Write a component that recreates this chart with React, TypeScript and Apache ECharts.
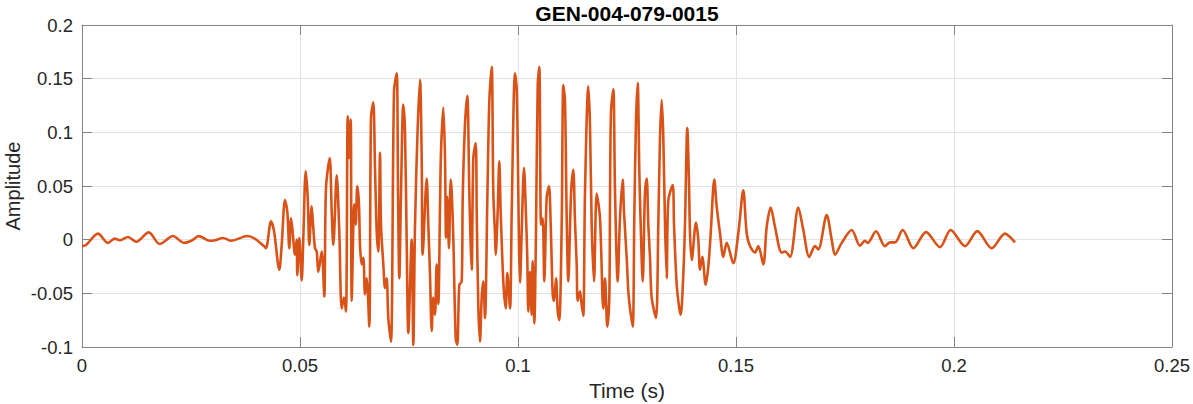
import React, { useEffect, useRef } from "react";
import * as echarts from "echarts";

const TITLE = "GEN-004-079-0015";
const X_LABEL = "Time (s)";
const Y_LABEL = "Amplitude";

// Time in milliseconds
const timeMs: number[] = [
  0, 0.92, 3.67, 5.96, 7.5, 8.65, 10.55, 12.45, 15.3, 17.82, 20.87, 23.39, 25.07, 26.77, 29.29, 30.5, 32.34, 34.24, 37.91, 39.61,
  41.74, 42.2, 43.35, 44.04, 45.25, 45.8, 46.56, 47.09, 47.55, 47.94, 48.23, 48.85, 49.24, 49.38, 49.84, 50.39, 50.76, 51.31, 51.77, 52.13,
  52.68, 53.05, 53.44, 53.83, 54.2, 54.98, 55.57, 55.96, 56.81, 57.27, 57.64, 58.42, 59.01, 59.56, 60.09, 60.55, 60.94, 61.24, 61.63, 61.86,
  62.45, 62.78, 63.14, 63.53, 63.76, 64.15, 64.52, 64.91, 65.3, 65.89, 66.28, 66.81, 67.2, 67.59, 67.96, 68.35, 68.58, 69.11, 69.5, 69.89,
  70.25, 70.87, 71.56, 72.18, 72.48, 72.78, 73.17, 73.69, 74.08, 74.47, 74.84, 75.62, 75.99, 76.38, 76.99, 77.52, 77.91, 78.14, 79.06, 79.43,
  79.82, 80.21, 80.57, 80.96, 81.35, 81.72, 82.11, 82.34, 82.87, 83.26, 83.49, 83.78, 84.17, 84.56, 84.79, 85.16, 85.71, 86.08, 86.54, 87.09,
  87.32, 87.84, 88.37, 88.83, 89.15, 89.38, 89.75, 90.3, 90.53, 90.89, 91.28, 91.67, 92.04, 92.43, 92.96, 93.42, 93.97, 94.33, 94.72, 94.89,
  95.34, 95.71, 96.03, 96.63, 97.18, 97.55, 98.17, 98.56, 99.31, 99.7, 100.07, 100.23, 100.46, 100.85, 101.38, 101.77, 102.13, 102.36, 102.75, 103.14,
  103.37, 103.74, 104.13, 104.52, 104.89, 105.28, 105.67, 106.03, 106.58, 107.11, 107.5, 107.96, 108.26, 108.72, 109.11, 109.47, 110.02, 110.39, 110.78, 111.17,
  111.54, 112.16, 112.68, 113.07, 113.46, 113.69, 114.22, 114.61, 114.98, 115.37, 116.12, 116.51, 116.9, 117.43, 118.05, 118.81, 119.56, 119.95, 120.48, 120.94,
  121.1, 121.33, 121.86, 122.25, 122.87, 123.39, 124.01, 124.31, 124.93, 125.3, 125.69, 126.31, 126.67, 127.06, 127.45, 127.82, 128.14, 128.6, 129.13, 129.52,
  129.89, 130.28, 130.66, 131.65, 132.18, 132.57, 132.96, 133.33, 133.72, 134.11, 134.47, 135.48, 135.78, 136.4, 136.99, 137.32, 137.91, 138.3, 138.83, 139.22,
  139.45, 139.84, 140.83, 141.35, 141.74, 142.27, 143.05, 143.65, 144.2, 145.02, 145.57, 146.33, 147.09, 147.87, 149.38, 150.53, 151.67, 152.45, 153.21, 154.36,
  155.11, 156.26, 157.04, 157.96, 158.94, 160.48, 161.24, 162.39, 164.29, 165.44, 166.81, 168.12, 168.88, 170.8, 171.95, 172.71, 174.24, 176.54, 178.44, 179.59,
  180.21, 182.11, 184.17, 185.32, 186.47, 188.23, 190.67, 193.58, 196.79, 199.24, 202.52, 205.34, 208.65, 211.7, 212.84, 213.99,
];

const amplitude: number[] = [
  -0.006, -0.005, 0.0056, -0.003, 0.001, -0.0006, 0.0025, -0.002, 0.0068, -0.004, 0.0034, -0.003, -0.001, 0.0033, -0.001, -0.0005, 0.0016, -0.001, 0.0034, 0.001,
  -0.006, -0.008, 0.017, 0.008, -0.028, -0.005, 0.037, 0.026, -0.008, 0.02, 0.011, -0.014, 0.0, -0.033, 0.0015, -0.038, 0.0015, 0.064, 0.039, -0.005,
  0.031, 0.011, -0.008, -0.011, -0.03, -0.011, -0.053, 0.048, 0.076, 0.026, -0.005, 0.06, 0.008, -0.064, -0.054, -0.067, 0.115, 0.076, 0.112, -0.057,
  0.033, 0.014, 0.05, 0.033, -0.005, -0.023, -0.017, -0.051, -0.036, -0.081, 0.113, 0.128, 0.067, 0.008, -0.011, 0.081, 0.014, -0.023, -0.045, -0.036,
  -0.073, -0.095, 0.138, 0.155, 0.045, -0.036, 0.045, 0.126, 0.101, -0.002, -0.087, 0.0, -0.098, 0.014, 0.104, 0.149, 0.076, -0.014, 0.057, 0.014,
  -0.033, -0.085, -0.054, -0.07, -0.023, -0.06, 0.03, 0.082, 0.123, 0.076, 0.002, 0.04, -0.008, 0.056, 0.045, 0.002, -0.092, -0.098, -0.042, -0.039,
  0.039, 0.107, 0.134, 0.045, -0.005, -0.028, 0.076, 0.09, 0.026, -0.061, -0.095, -0.054, -0.039, -0.073, 0.036, 0.129, 0.161, 0.045, 0.005, -0.014,
  0.026, 0.073, 0.026, -0.039, -0.064, -0.031, -0.064, 0.026, 0.155, 0.141, 0.045, -0.005, -0.04, 0.008, 0.067, 0.03, -0.017, -0.067, -0.03, -0.07,
  -0.02, -0.078, 0.008, 0.144, 0.161, 0.014, 0.02, -0.039, 0.039, 0.05, 0.014, -0.051, -0.057, -0.036, -0.067, -0.075, 0.014, 0.144, 0.129, 0.02,
  -0.039, 0.042, 0.065, 0.017, -0.023, -0.057, -0.048, -0.061, -0.071, 0.045, 0.143, 0.107, 0.014, -0.039, 0.043, 0.02, -0.064, -0.036, -0.081, -0.054,
  0.033, 0.119, 0.14, 0.045, -0.039, 0.02, 0.056, 0.026, -0.017, -0.048, -0.064, -0.081, 0.02, 0.11, 0.146, 0.064, 0.014, -0.039, 0.045, 0.057,
  0.014, -0.017, -0.054, -0.073, 0.014, 0.095, 0.13, 0.095, 0.014, -0.036, 0.036, 0.051, 0.014, -0.042, -0.064, -0.07, -0.033, 0.014, 0.104, 0.053,
  0.006, -0.019, 0.016, 0.0, -0.028, -0.016, -0.042, -0.025, 0.006, 0.056, 0.031, 0.006, -0.016, -0.003, -0.022, 0.006, 0.046, 0.006, -0.006, -0.012,
  -0.006, -0.023, 0.012, 0.03, 0.012, -0.012, -0.011, -0.016, 0.03, 0.009, -0.016, -0.006, -0.009, 0.023, 0.0, -0.014, -0.003, 0.009, -0.0056, -0.001,
  -0.003, 0.0078, -0.006, -0.0025, -0.0025, 0.009, -0.008, 0.007, -0.007, 0.009, -0.006, 0.008, -0.008, 0.0056, 0.0025, -0.0025,
];

const X_MIN = 0;
const X_MAX = 0.25;
const X_STEP = 0.05;
const Y_MIN = -0.1;
const Y_MAX = 0.2;
const Y_STEP = 0.05;

export default function App() {
  const ref = useRef<HTMLDivElement>(null);

  useEffect(() => {
    document.body.style.margin = "0";
    if (!ref.current) return;
    const chart = echarts.init(ref.current, undefined, { renderer: "svg" });

    const data = timeMs.map((t, i) => [t / 1000, amplitude[i]]);
    const font = "Liberation Sans, Arial, Helvetica, sans-serif";
    const axisColor = "#858585";
    const textColor = "#262626";
    const gridColor = "#e3e3e3";

    const fmt = (v: number) => {
      const r = Math.round(v * 1000) / 1000;
      return String(r);
    };

    const baseX = {
      type: "value" as const,
      min: X_MIN,
      max: X_MAX,
      interval: X_STEP,
      axisLine: { show: true, onZero: false, lineStyle: { color: axisColor, width: 1 } },
      axisTick: { show: true, inside: true, length: 10, lineStyle: { color: axisColor } },
    };
    const baseY = {
      type: "value" as const,
      min: Y_MIN,
      max: Y_MAX,
      interval: Y_STEP,
      axisLine: { show: true, onZero: false, lineStyle: { color: axisColor, width: 1 } },
      axisTick: { show: true, inside: true, length: 10, lineStyle: { color: axisColor } },
    };

    chart.setOption({
      animation: false,
      grid: { left: 82, right: 21, top: 25, bottom: 57, containLabel: false, outerBoundsMode: "none" },
      graphic: [
        {
          type: "text",
          x: 627,
          y: 13,
          style: {
            text: TITLE,
            fill: "#000",
            font: `bold 21px ${font}`,
            textAlign: "center",
            textVerticalAlign: "middle",
          },
        },
        {
          type: "text",
          x: 13,
          y: 186,
          rotation: Math.PI / 2,
          style: {
            text: Y_LABEL,
            fill: textColor,
            font: `20px ${font}`,
            textAlign: "center",
            textVerticalAlign: "middle",
          },
        },
      ],
      xAxis: [
        {
          ...baseX,
          position: "bottom",
          name: X_LABEL,
          nameLocation: "middle",
          nameGap: 33,
          nameTextStyle: { color: textColor, fontSize: 21, fontFamily: font },
          axisLabel: { color: textColor, fontSize: 18.5, fontFamily: font, margin: 9, formatter: fmt },
          splitLine: { show: true, lineStyle: { color: gridColor, width: 1 } },
        },
        {
          ...baseX,
          position: "top",
          axisLabel: { show: false },
          splitLine: { show: false },
        },
      ],
      yAxis: [
        {
          ...baseY,
          position: "left",
          axisLabel: { color: textColor, fontSize: 18.5, fontFamily: font, margin: 9, formatter: fmt },
          splitLine: { show: true, lineStyle: { color: gridColor, width: 1 } },
        },
        {
          ...baseY,
          position: "right",
          axisLabel: { show: false },
          splitLine: { show: false },
        },
      ],
      series: [
        {
          type: "line",
          data,
          xAxisIndex: 0,
          yAxisIndex: 0,
          showSymbol: false,
          symbol: "none",
          smooth: 0.3,
          lineStyle: { color: "#D95319", width: 2.6 },
          z: 3,
        },
      ],
    });

    return () => {
      chart.dispose();
    };
  }, []);

  return <div ref={ref} style={{ width: 1193, height: 404 }} />;
}
